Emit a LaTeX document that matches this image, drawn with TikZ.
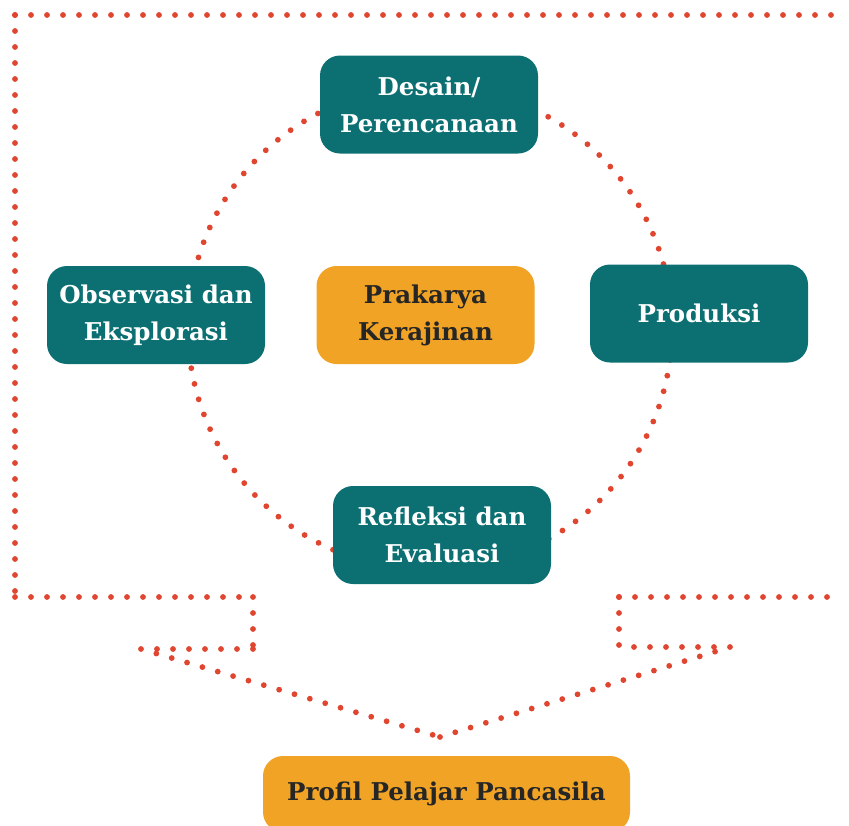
\documentclass[tikz,border=0pt]{standalone}
\usepackage{fontspec}
\setmainfont{DejaVu Serif}
\definecolor{tealbox}{HTML}{0C7073}
\definecolor{orangebox}{HTML}{F0A325}
\definecolor{dotred}{HTML}{E04530}
\begin{document}
\begin{tikzpicture}[x=1pt,y=-1pt,
  dots/.style={dotred, line width=5.8pt, line cap=round, dash pattern=on 0pt off 16pt},
  stage/.style={fill=tealbox, text=white, rounded corners=20pt, minimum width=218pt,
    minimum height=98pt, align=center, inner sep=0pt,
    font=\fontsize{24.5}{37}\selectfont\bfseries},
  core/.style={stage, fill=orangebox, text=black!85}]
\useasboundingbox (0,0) rectangle (849,825);
% outer frame
\coordinate (TR) at (840,15);
\coordinate (TL) at (15,15);
\coordinate (BL) at (15,597);
\coordinate (L1) at (253,597);
\coordinate (L2) at (253,649);
\coordinate (L3) at (141,649);
\coordinate (V) at (440,737);
\coordinate (BR) at (840,597);
\coordinate (R1) at (619,597);
\coordinate (R2) at (619,647);
\coordinate (R3) at (730,647);
\foreach \a/\b in {TL/TR, TL/BL, BL/L1, L1/L2, L2/L3, L3/V, R1/BR, R1/R2, R3/R2, V/R3}
  \draw[dots] (\a) -- (\b);
% cycle
\coordinate (M) at (430,328);
\draw[dots] (M) circle (242);
\node[stage] (desain) at (429,104.5) {Desain/\\Perencanaan};
\node[stage] (observasi) at (156,315) {Observasi dan\\Eksplorasi};
\node[core] (prakarya) at (425.5,315) {Prakarya\\Kerajinan};
\node[stage] (produksi) at (699,313.5) {Produksi};
\node[stage] (refleksi) at (442,535) {Refleksi dan\\Evaluasi};
\node[core, minimum width=367pt, minimum height=76pt] (profil) at (446.5,794) {Profil Pelajar Pancasila};
\end{tikzpicture}
\end{document}
